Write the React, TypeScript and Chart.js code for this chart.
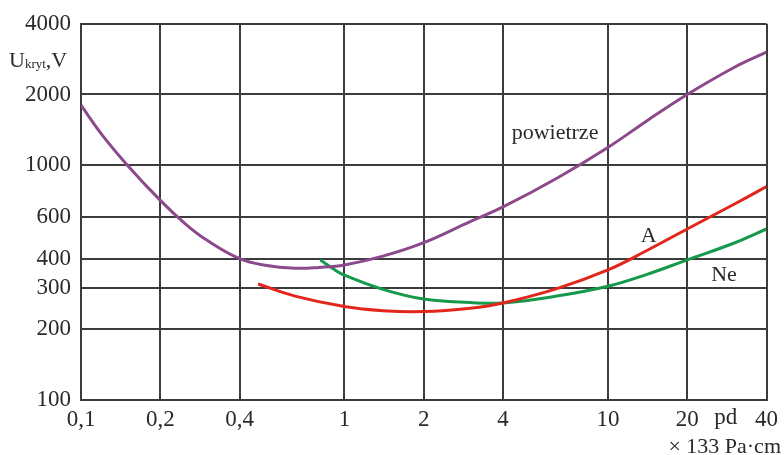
import React, { useEffect, useRef } from "react";
import { Chart, registerables } from "chart.js";
Chart.register(...registerables);

const xTicks = [0.1, 0.2, 0.4, 1, 2, 4, 10, 20, 40];
const xTickLabels = ["0,1", "0,2", "0,4", "1", "2", "4", "10", "20", "40"];
const yTicks = [100, 200, 300, 400, 600, 1000, 2000, 4000];
const yTickLabels = ["100", "200", "300", "400", "600", "1000", "2000", "4000"];

const airX = [0.1, 0.12, 0.15, 0.2, 0.25, 0.3, 0.4, 0.5, 0.65, 0.8, 1, 1.4, 2, 3, 4, 6.4, 10, 14, 20, 30, 40];
const airY = [1800, 1350, 1000, 708, 560, 480, 400, 375, 364, 367, 376, 410, 468, 575, 664, 880, 1190, 1540, 2000, 2600, 3030];

const argonX = [0.47, 0.65, 1, 1.4, 2, 3, 4, 6.4, 10, 14, 20, 30, 40];
const argonY = [312, 277, 250, 240, 238, 246, 259, 298, 358, 432, 535, 680, 810];

const neonX = [0.81, 0.9, 1, 1.4, 2, 3, 4, 6.4, 10, 14, 20, 30, 40];
const neonY = [395, 364, 340, 296, 269, 260, 259, 277, 305, 342, 395, 465, 535];

const seriesNames = ["powietrze", "A", "Ne"];
const seriesColors = ["#8c4a8c", "#e3261b", "#15994a"];
const labelX = [6.3, 14.3, 27.6];
const labelY = [1370, 500, 340];

const FONT = "'Liberation Serif', 'Times New Roman', serif";
const TEXT = "#2a2a2a";
const GRID = "#3c3c3c";

const toPts = (xs: number[], ys: number[]) => xs.map((x, i) => ({ x, y: ys[i] }));

export default function App() {
  const ref = useRef<HTMLCanvasElement | null>(null);
  useEffect(() => {
    if (!ref.current) return;
    const annot = {
      id: "annot",
      afterDraw(chart: any) {
        const { ctx, scales, chartArea } = chart;
        const xs = scales.x;
        const ys = scales.y;
        ctx.save();
        ctx.fillStyle = TEXT;
        ctx.textAlign = "center";
        ctx.textBaseline = "middle";
        ctx.font = `22px ${FONT}`;
        seriesNames.forEach((n, i) => {
          ctx.fillText(n, xs.getPixelForValue(labelX[i]), ys.getPixelForValue(labelY[i]));
        });
        ctx.font = `23px ${FONT}`;
        ctx.textBaseline = "top";
        ctx.fillText("pd", xs.getPixelForValue(28), chartArea.bottom + 6);
        ctx.font = `22px ${FONT}`;
        ctx.textAlign = "right";
        ctx.textBaseline = "alphabetic";
        ctx.fillText("\u00d7 133 Pa\u00b7cm", 781, 453);
        ctx.textAlign = "left";
        let x = 9;
        ctx.font = `22px ${FONT}`;
        ctx.fillText("U", x, 67);
        x += ctx.measureText("U").width;
        ctx.font = `13px ${FONT}`;
        ctx.fillText("kryt", x, 68);
        x += ctx.measureText("kryt").width;
        ctx.font = `22px ${FONT}`;
        ctx.fillText(",V", x, 67);
        ctx.restore();
      },
    };
    const chart = new Chart(ref.current, {
      type: "line",
      data: {
        datasets: [
          { label: seriesNames[0], data: toPts(airX, airY), borderColor: seriesColors[0] },
          { label: seriesNames[1], data: toPts(argonX, argonY), borderColor: seriesColors[1] },
          { label: seriesNames[2], data: toPts(neonX, neonY), borderColor: seriesColors[2] },
        ].map((d) => ({ ...d, borderWidth: 3, pointRadius: 0, fill: false, tension: 0.4 })),
      },
      options: {
        responsive: false,
        animation: false,
        layout: { padding: { top: 23, right: 15, left: 0, bottom: 0 } },
        plugins: { legend: { display: false }, tooltip: { enabled: false } },
        scales: {
          x: {
            type: "logarithmic",
            min: 0.1,
            max: 40,
            afterBuildTicks: (s: any) => {
              s.ticks = xTicks.map((v) => ({ value: v }));
            },
            afterFit: (s: any) => {
              s.height = 55;
            },
            ticks: {
              autoSkip: false,
              maxRotation: 0,
              padding: 6,
              color: TEXT,
              font: { family: FONT, size: 23 },
              callback: (_v: any, i: number) => xTickLabels[i],
            },
            grid: { color: GRID, lineWidth: 2, drawTicks: false },
            border: { color: GRID, width: 2 },
          },
          y: {
            type: "logarithmic",
            min: 100,
            max: 4000,
            afterBuildTicks: (s: any) => {
              s.ticks = yTicks.map((v) => ({ value: v }));
            },
            afterFit: (s: any) => {
              s.width = 81;
            },
            ticks: {
              autoSkip: false,
              padding: 10,
              color: TEXT,
              font: { family: FONT, size: 23 },
              callback: (_v: any, i: number) => yTickLabels[i],
            },
            grid: { color: GRID, lineWidth: 2, drawTicks: false },
            border: { color: GRID, width: 2 },
          },
        },
      },
      plugins: [annot],
    });
    return () => chart.destroy();
  }, []);
  return (
    <div style={{ position: "absolute", left: 0, top: 0, width: 784, height: 455, background: "#fff" }}>
      <canvas ref={ref} width={784} height={455} style={{ display: "block" }} />
    </div>
  );
}
